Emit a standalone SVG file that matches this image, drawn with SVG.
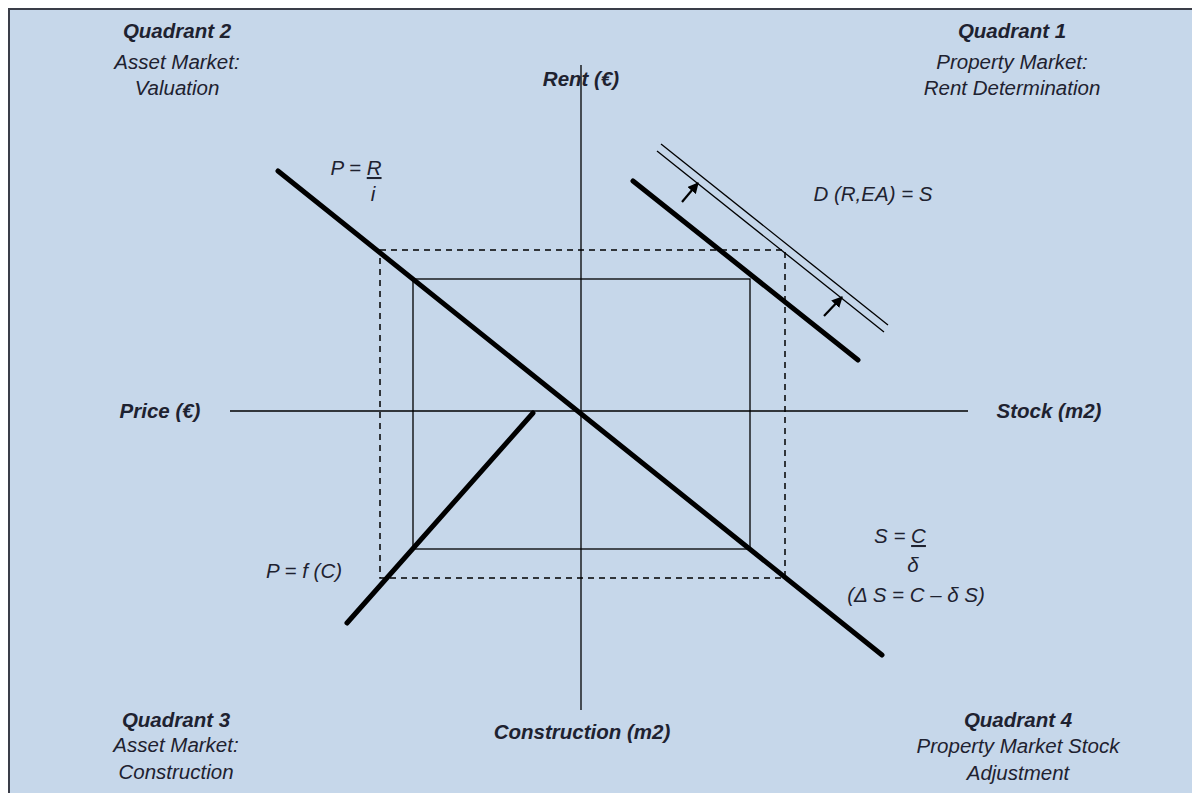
<svg xmlns="http://www.w3.org/2000/svg" width="1192" height="793" viewBox="0 0 1192 793">
<defs>
<style>
text{font-family:"Liberation Sans",Arial,sans-serif;fill:#1e2230;font-style:italic;font-size:20.5px;text-anchor:middle}
.b{font-weight:bold}
.thick{stroke:#000;stroke-width:5;stroke-linecap:round;fill:none}
.thin{stroke:#000;stroke-width:1.3;fill:none}
.axis{stroke:#000;stroke-width:1.3;fill:none}
.dash{stroke:#000;stroke-width:1.5;fill:none;stroke-dasharray:6,5}
</style>
<marker id="ah" viewBox="0 0 10 10" refX="9" refY="5" markerWidth="5" markerHeight="5" orient="auto"><path d="M0,0 L10,5 L0,10 z" fill="#000"/></marker>
</defs>
<rect x="0" y="0" width="1192" height="793" fill="#ffffff"/>
<rect x="9" y="9" width="1200" height="800" fill="#c6d7ea" stroke="#3a3d48" stroke-width="2"/>

<g id="axes">
<line class="axis" x1="581" y1="65" x2="581" y2="710"/>
<line class="axis" x1="230" y1="411" x2="968" y2="411"/>
</g>

<g id="rectangles">
<rect class="thin" x="413" y="279" width="337" height="270"/>
<rect class="dash" x="380" y="250" width="405" height="328"/>
</g>

<g id="curves">
<line class="thick" x1="278" y1="171" x2="882" y2="655"/>
<line class="thick" x1="633" y1="181" x2="858" y2="360"/>
<line class="thick" x1="347" y1="623" x2="533" y2="413"/>
<line class="thin" x1="661" y1="144" x2="888" y2="325"/>
<line class="thin" x1="657" y1="151" x2="884" y2="332"/>
</g>

<g id="shift-arrows">
<line x1="682" y1="202" x2="698" y2="183" stroke="#000" stroke-width="2.2" marker-end="url(#ah)"/>
<line x1="824" y1="316" x2="842" y2="297" stroke="#000" stroke-width="2.2" marker-end="url(#ah)"/>
</g>

<g id="quadrant2">
<text class="b" x="177" y="38">Quadrant 2</text>
<text x="177" y="69">Asset Market:</text>
<text x="177" y="95">Valuation</text>
</g>
<g id="quadrant1">
<text class="b" x="1012" y="38">Quadrant 1</text>
<text x="1012" y="69">Property Market:</text>
<text x="1012" y="95">Rent Determination</text>
</g>
<g id="quadrant3">
<text class="b" x="176" y="727">Quadrant 3</text>
<text x="176" y="752">Asset Market:</text>
<text x="176" y="779">Construction</text>
</g>
<g id="quadrant4">
<text class="b" x="1018" y="727">Quadrant 4</text>
<text x="1018" y="753">Property Market Stock</text>
<text x="1018" y="780">Adjustment</text>
</g>

<g id="axis-labels">
<text class="b" x="581" y="86">Rent (€)</text>
<text class="b" x="160" y="418">Price (€)</text>
<text class="b" x="1049" y="418">Stock (m2)</text>
<text class="b" x="582" y="739">Construction (m2)</text>
</g>

<g id="formulas">
<text x="356" y="175">P = <tspan text-decoration="underline">R</tspan></text>
<text x="373" y="201">i</text>
<text x="873" y="201">D (R,EA) = S</text>
<text x="900" y="543">S = <tspan text-decoration="underline">C</tspan></text>
<text x="913" y="572">δ</text>
<text x="916" y="602">(Δ S = C – δ S)</text>
<text x="304" y="578">P = f (C)</text>
</g>
</svg>
